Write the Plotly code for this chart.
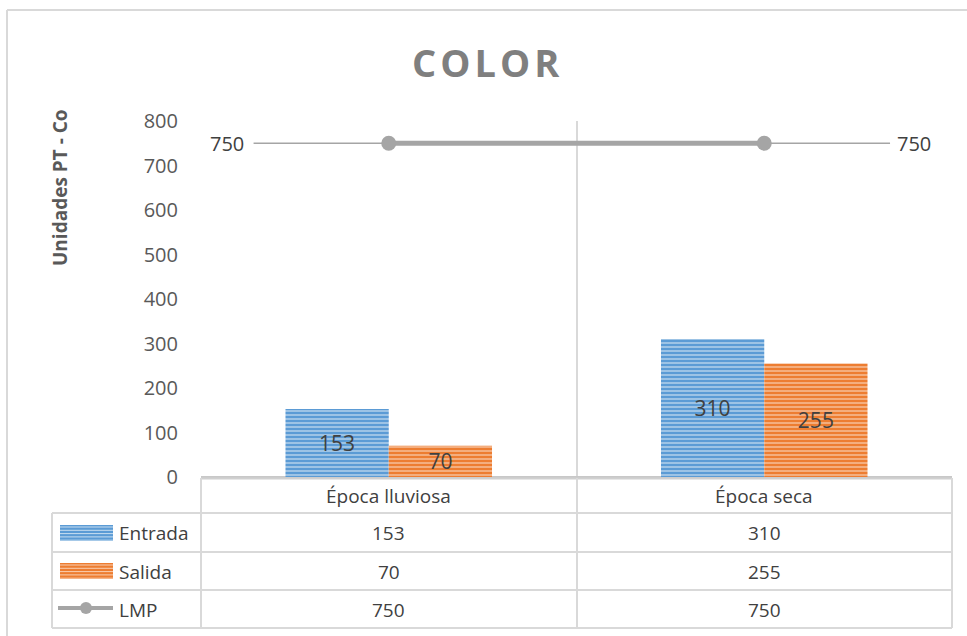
import plotly.graph_objects as go

# ---- data ----
categories = ["Época lluviosa", "Época seca"]
series_names = ["Entrada", "Salida", "LMP"]
entrada = [153, 310]
salida = [70, 255]
lmp = [750, 750]
y_ticks = [0, 100, 200, 300, 400, 500, 600, 700, 800]

W, H = 967, 636
L, R, T, B = 201, 952, 121, 477  # plot area in px
FONT = "Open Sans"
TXT = "#404040"
AX = "#595959"
GRID = "#D9D9D9"
BLUE, BLUE_L = "#5B9BD5", "#C9DEF1"
ORANGE, ORANGE_L = "#ED7D31", "#F9CFB2"
GREY = "#A5A5A5"


def px_x(p):
    return (p - L) / (R - L)


def px_y(p):
    return (B - p) / (B - T)


xs = list(range(len(categories)))
fig = go.Figure()

for name, vals, base, light in [("Entrada", entrada, BLUE, BLUE_L), ("Salida", salida, ORANGE, ORANGE_L)]:
    fig.add_trace(go.Bar(
        x=xs, y=vals, name=name, text=[str(v) for v in vals],
        textposition="inside", insidetextanchor="middle", constraintext="none", textangle=0,
        textfont=dict(size=21, color=TXT, family=FONT),
        marker=dict(color=base, line=dict(width=0),
                    pattern=dict(shape="-", size=4, solidity=0.3, fgcolor=light, bgcolor=base,
                                 fillmode="replace")),
    ))

# LMP thin extension line towards the edges
ext_left, ext_right = xs[0] - 0.36, xs[-1] + 0.335
fig.add_trace(go.Scatter(
    x=[ext_left, ext_right], y=[lmp[0], lmp[-1]], mode="lines",
    line=dict(color=GREY, width=1.5), hoverinfo="skip", showlegend=False,
))
fig.add_trace(go.Scatter(
    x=xs, y=lmp, mode="lines+markers", name="LMP",
    line=dict(color=GREY, width=5),
    marker=dict(size=15, color=GREY),
))

annotations = []


def ann(x, y, text, xref="paper", yref="paper", size=19, color=TXT, xanchor="center", **kw):
    annotations.append(dict(x=x, y=y, xref=xref, yref=yref, text=text, showarrow=False,
                            xanchor=xanchor, yanchor="middle",
                            font=dict(size=size, color=color, family=FONT), **kw))


# end labels of LMP line
ann(xs[0] - 0.43, lmp[0], str(lmp[0]), xref="x", yref="y", size=20)
ann(xs[-1] + 0.40, lmp[-1], str(lmp[-1]), xref="x", yref="y", size=20)

# title
ann(px_x(487), px_y(62), '<b><span style="letter-spacing:4px">COLOR</span></b>', size=38, color="#7F7F7F")
# y-axis title
ann(px_x(60), px_y(188), "<b>Unidades PT - Co</b>", size=19, color=AX, textangle=-90)

# data table
row_centers = {"hdr": 496, "Entrada": 533, "Salida": 571.5, "LMP": 609.5}
for i, c in enumerate(categories):
    ann(xs[i], px_y(row_centers["hdr"]), c, xref="x")
for name, vals in zip(series_names, [entrada, salida, lmp]):
    ann(px_x(117), px_y(row_centers[name]), name, xanchor="left")
    for i, v in enumerate(vals):
        ann(xs[i], px_y(row_centers[name]), str(v), xref="x")

shapes = []


def hline(x0, x1, y, color=GRID, width=2):
    shapes.append(dict(type="line", xref="paper", yref="paper", x0=px_x(x0), x1=px_x(x1),
                       y0=px_y(y), y1=px_y(y), line=dict(color=color, width=width)))


def vline(x, y0, y1, color=GRID, width=2):
    shapes.append(dict(type="line", xref="paper", yref="paper", x0=px_x(x), x1=px_x(x),
                       y0=px_y(y0), y1=px_y(y1), line=dict(color=color, width=width)))


# outer chart border
hline(7, 967, 10)
vline(7, 10, 636)
# table grid
hline(201, 952, 478.5, color="#D0D0D0", width=2)
for yy in [513, 552, 590, 628]:
    hline(52, 952, yy)
vline(52, 513, 628)
for xx in [201, 577, 952]:
    vline(xx, 478, 628)

# legend keys
for (y0, y1, base, light) in [(525, 541, BLUE, BLUE_L), (563, 579, ORANGE, ORANGE_L)]:
    shapes.append(dict(type="rect", xref="paper", yref="paper", x0=px_x(60), x1=px_x(113),
                       y0=px_y(y1), y1=px_y(y0), fillcolor=base, line=dict(width=0)))
    yy = y0 + 2
    while yy < y1:
        hline(60, 113, yy, color=light, width=1)
        yy += 3.3
hline(58, 113, 608, color=GREY, width=4)
shapes.append(dict(type="circle", xref="paper", yref="paper", x0=px_x(80), x1=px_x(92),
                   y0=px_y(614), y1=px_y(602), fillcolor=GREY, line=dict(width=0)))

fig.update_layout(
    width=W, height=H,
    margin=dict(l=L, r=W - R, t=T, b=H - B, pad=0),
    paper_bgcolor="white", plot_bgcolor="white",
    barmode="group", bargap=0.45, bargroupgap=0,
    showlegend=False,
    font=dict(family=FONT, color=AX),
    xaxis=dict(range=[-0.5, len(categories) - 0.5], tickvals=[-0.5, 0.5, 1.5],
               showticklabels=False, showgrid=True, gridcolor=GRID, gridwidth=2,
               zeroline=False, ticks="", showline=False, fixedrange=True),
    yaxis=dict(range=[0, 800], tickvals=y_ticks, showgrid=False, zeroline=True,
               zerolinecolor="#C8C8C8", zerolinewidth=2, ticks="", showline=False,
               tickfont=dict(size=20, color=AX, family=FONT), ticklabelstandoff=22,
               fixedrange=True),
    annotations=annotations,
    shapes=shapes,
)

fig.write_html("out.html")
